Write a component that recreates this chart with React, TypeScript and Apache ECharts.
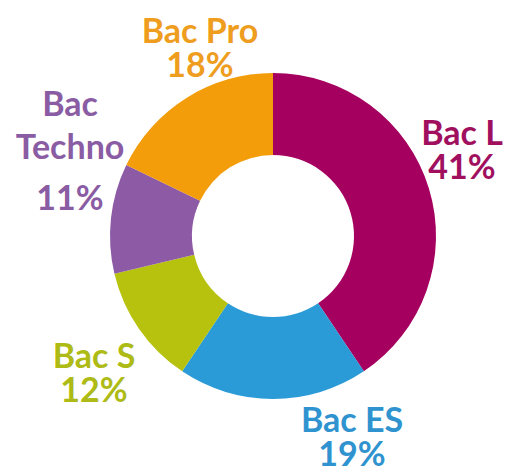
import React, { useEffect, useRef } from "react";
import * as echarts from "echarts";

const categories = ["Bac L", "Bac ES", "Bac S", "Bac Techno", "Bac Pro"];
const values = [41, 19, 12, 11, 18];
const colors = ["#A5005F", "#2A9BD6", "#B7C20E", "#8D5BA6", "#F39D0A"];
const labelColors = ["#A0105F", "#2F93CF", "#AEBB16", "#8A5CA3", "#EE9D1E"];
// label anchor centres (px), one per category
const labelAnchors: [number, number][] = [
  [462, 148],
  [352, 435],
  [94, 371],
  [70, 153],
  [200, 46],
];

const FONT = "Lato";

export default function App() {
  const ref = useRef<HTMLDivElement>(null);
  useEffect(() => {
    if (!ref.current) return;
    const chart = echarts.init(ref.current, undefined, { renderer: "svg" });
    const base = { fontFamily: FONT, fontWeight: "bold" as const, fontSize: 34 };
    chart.setOption({
      animation: false,
      backgroundColor: "#ffffff",
      series: [
        {
          type: "pie",
          center: [273, 236],
          radius: [81, 163],
          startAngle: 90,
          clockwise: true,
          avoidLabelOverlap: false,
          labelLine: { show: false },
          label: {
            show: true,
            position: "outside",
            ...base,
            formatter: (p: any) => {
              if (p.name === "Bac Techno") {
                return `{a|Bac}\n{a|Techno}\n{b|${p.value}%}`;
              }
              return `{t|${p.name}}\n{t|${p.value}%}`;
            },
            rich: {
              t: { ...base, lineHeight: 34 },
              a: { ...base, lineHeight: 43 },
              b: { ...base, lineHeight: 59 },
            },
          },
          labelLayout: (params: any) => {
            const p = labelAnchors[params.dataIndex];
            return { x: p[0], y: p[1], align: "center", verticalAlign: "middle" };
          },
          data: categories.map((c, i) => ({
            name: c,
            value: values[i],
            itemStyle: { color: colors[i] },
            label: { color: labelColors[i] },
          })),
        },
      ],
    });
    return () => chart.dispose();
  }, []);
  return (
    <div
      ref={ref}
      style={{ position: "fixed", left: 0, top: 0, width: 505, height: 473 }}
    />
  );
}
